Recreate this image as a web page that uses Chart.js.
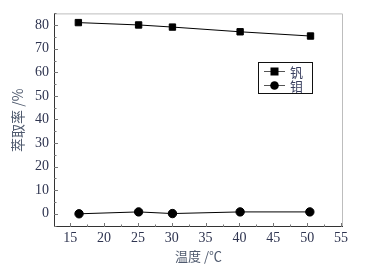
<!DOCTYPE html>
<html>
<head>
<meta charset="utf-8">
<script src="https://cdn.jsdelivr.net/npm/chart.js@4.4.0/dist/chart.umd.min.js"></script>
<style>
  html, body { margin: 0; padding: 0; background: #fff; }
  #wrap { width: 369px; height: 268px; }
</style>
</head>
<body>
<div id="wrap"><canvas id="c" width="369" height="268"></canvas></div>
<script>
// data
const seriesNames = ['钒', '钼'];
const tempV = [16.2, 25.1, 30.1, 40.1, 50.5];
const rateV = [81.1, 80.1, 79.2, 77.2, 75.4];
const tempMo = [16.3, 25.1, 30.1, 40.1, 50.4];
const rateMo = [0, 0.8, 0.1, 0.8, 0.8];
const xTicks = [15, 20, 25, 30, 35, 40, 45, 50, 55];
const yTicks = [0, 10, 20, 30, 40, 50, 60, 70, 80];

const textColor = '#2e3450';
const titleColor = '#4f5a6e';

function pts(xs, ys) {
  return xs.map((x, i) => ({ x: x, y: ys[i] }));
}

// inward major/minor ticks + frame + legend box
const frame = {
  id: 'frame',
  afterDraw(chart) {
    const ctx = chart.ctx, a = chart.chartArea;
    const xs = chart.scales.x, ys = chart.scales.y;
    ctx.save();
    ctx.lineWidth = 1;
    ctx.strokeStyle = '#bdbdbd';
    ctx.beginPath();
    ctx.moveTo(a.left, a.top + 0.5);
    ctx.lineTo(a.right - 0.5, a.top + 0.5);
    ctx.lineTo(a.right - 0.5, a.bottom);
    ctx.stroke();
    ctx.strokeStyle = '#333';
    ctx.beginPath();
    ctx.moveTo(a.left + 0.5, a.top);
    ctx.lineTo(a.left + 0.5, a.bottom - 0.5);
    ctx.lineTo(a.right, a.bottom - 0.5);
    ctx.stroke();
    ctx.strokeStyle = '#777';
    ctx.beginPath();
    for (let v = 15; v <= 55; v += 2.5) {
      const px = Math.round(xs.getPixelForValue(v)) + 0.5;
      const len = (v % 5 === 0) ? 4 : 2.5;
      ctx.moveTo(px, a.bottom);
      ctx.lineTo(px, a.bottom - len);
    }
    for (let v = -5; v <= 85; v += 5) {
      const py = Math.round(ys.getPixelForValue(v)) + 0.5;
      if (py < a.top || py > a.bottom) continue;
      const len = (v % 10 === 0) ? 4 : 2.5;
      ctx.moveTo(a.left, py);
      ctx.lineTo(a.left + len, py);
    }
    ctx.stroke();

    // legend box
    const lx = 258, ly = 62, lw = 54, lh = 31;
    ctx.strokeStyle = '#111';
    ctx.strokeRect(lx + 0.5, ly + 0.5, lw, lh);
    ctx.font = '13px "Noto Sans CJK SC"';
    ctx.textBaseline = 'middle';
    chart.data.datasets.forEach((ds, i) => {
      const cy = ly + 9 + i * 14;
      ctx.strokeStyle = '#555';
      ctx.beginPath();
      ctx.moveTo(lx + 6, cy + 0.5);
      ctx.lineTo(lx + 27, cy + 0.5);
      ctx.stroke();
      ctx.fillStyle = '#000';
      if (ds.pointStyle === 'rect') {
        ctx.fillRect(lx + 12.5, cy - 3.5, 8, 8);
      } else {
        ctx.beginPath();
        ctx.arc(lx + 16.5, cy + 0.5, 4.3, 0, Math.PI * 2);
        ctx.fill();
      }
      ctx.fillStyle = '#3a4060';
      ctx.fillText(ds.label, lx + 32, cy + 1);
    });
    ctx.restore();
  }
};

new Chart(document.getElementById('c'), {
  type: 'scatter',
  data: {
    datasets: [
      {
        label: seriesNames[0],
        data: pts(tempV, rateV),
        showLine: true,
        borderColor: '#000',
        borderWidth: 1,
        pointStyle: 'rect',
        pointRadius: 4.5,
        pointBackgroundColor: '#000',
        pointBorderColor: '#000'
      },
      {
        label: seriesNames[1],
        data: pts(tempMo, rateMo),
        showLine: true,
        borderColor: '#000',
        borderWidth: 1,
        pointStyle: 'circle',
        pointRadius: 4.2,
        pointBackgroundColor: '#000',
        pointBorderColor: '#000'
      }
    ]
  },
  options: {
    responsive: false,
    animation: false,
    devicePixelRatio: 1,
    layout: { padding: { top: 12, right: 26, left: 9, bottom: 4 } },
    plugins: { legend: { display: false }, tooltip: { enabled: false } },
    scales: {
      x: {
        type: 'linear',
        min: 12.6,
        max: 55.3,
        afterBuildTicks(s) { s.ticks = xTicks.map(v => ({ value: v })); },
        afterFit(s) { s.height = 37; },
        grid: { display: false, drawTicks: false },
        border: { display: false },
        ticks: {
          color: textColor,
          padding: 3,
          maxRotation: 0,
          font: { family: '"Liberation Serif"', size: 14 }
        },
        title: {
          display: true,
          text: '温度 /℃',
          color: titleColor,
          padding: { top: 0, bottom: 0 },
          font: { family: '"Noto Sans CJK SC"', size: 13 }
        }
      },
      y: {
        type: 'linear',
        min: -5.6,
        max: 85,
        afterBuildTicks(s) { s.ticks = yTicks.map(v => ({ value: v })); },
        afterFit(s) { s.width = 45; },
        grid: { display: false, drawTicks: false },
        border: { display: false },
        ticks: {
          color: textColor,
          padding: 5,
          font: { family: '"Liberation Serif"', size: 14 }
        },
        title: {
          display: true,
          text: '萃取率 /%',
          color: titleColor,
          padding: { top: 0, bottom: 0 },
          font: { family: '"Noto Sans CJK SC"', size: 14 }
        }
      }
    }
  },
  plugins: [frame]
});
</script>
</body>
</html>
